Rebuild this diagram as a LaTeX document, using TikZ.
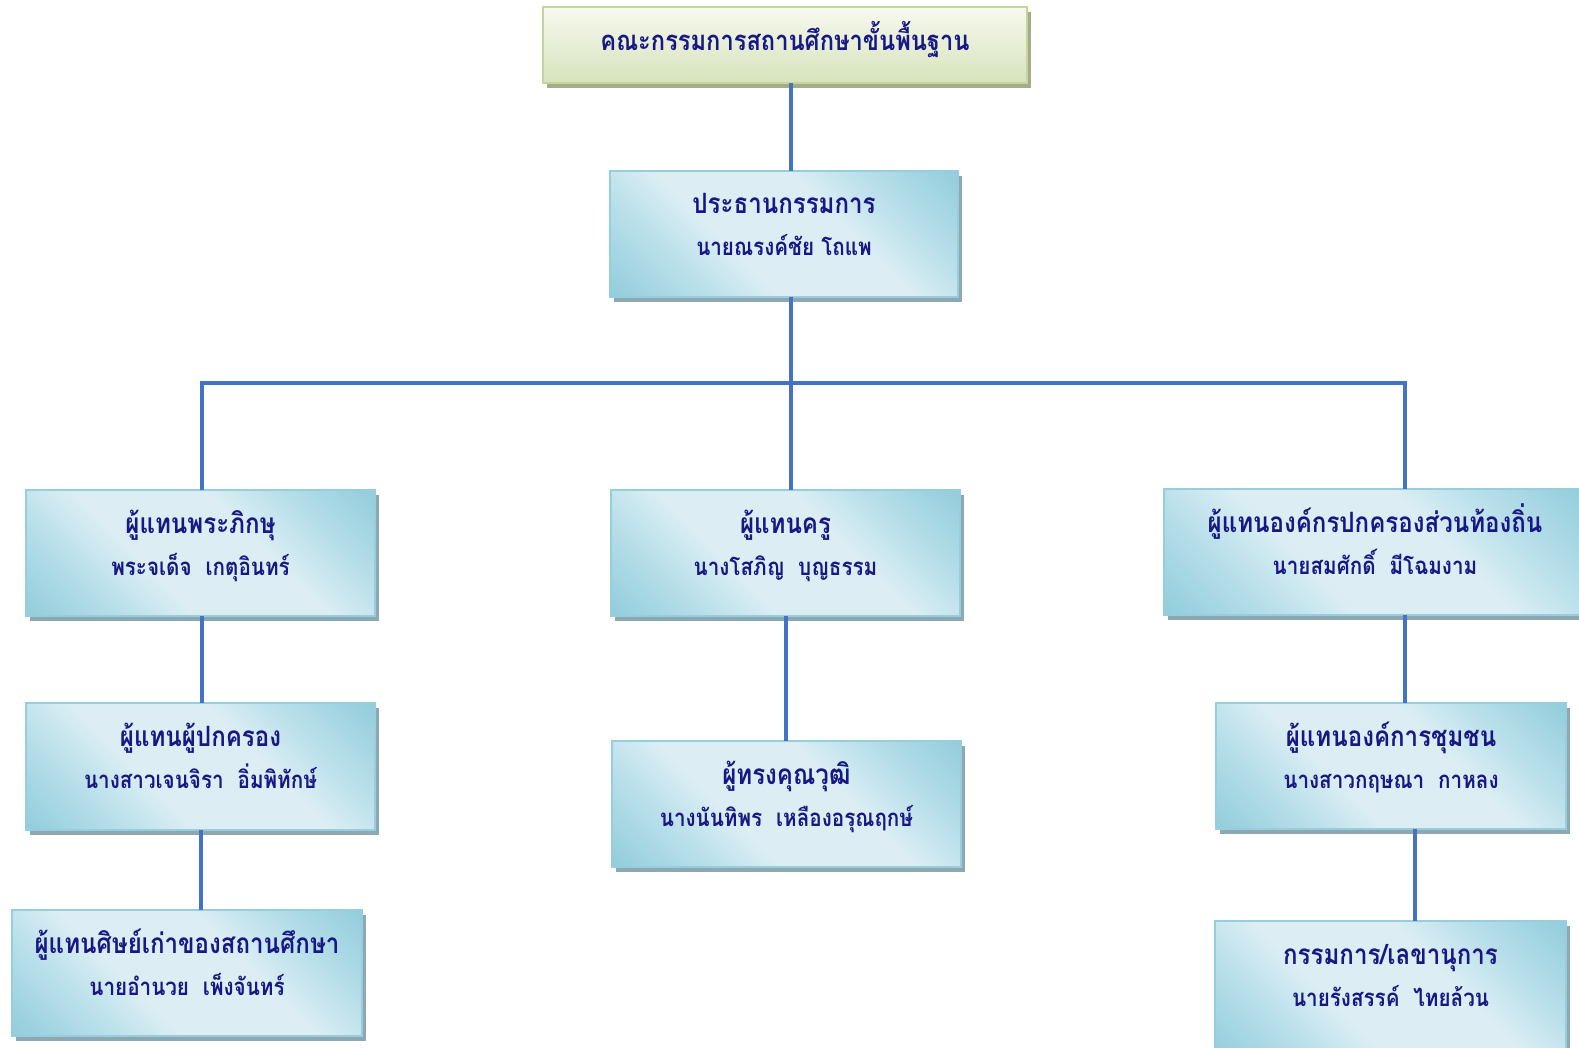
\documentclass[tikz,border=0pt]{standalone}
\usepackage{fontspec}
\newfontfamily\thaifont[Script=Thai,FakeStretch=0.86]{Loma}
\definecolor{navy}{RGB}{24,24,132}
\definecolor{lnk}{HTML}{4472C4}
\definecolor{bbord}{HTML}{96CEDD}
\definecolor{bdk}{HTML}{93CDDC}
\definecolor{bmd}{HTML}{B8DFEA}
\definecolor{blt}{HTML}{DCEEF4}
\definecolor{bshad}{HTML}{8EA8B2}
\definecolor{gbord}{HTML}{C3D69B}
\definecolor{gtop}{HTML}{F7F9EF}
\definecolor{gbot}{HTML}{D6E3BC}
\definecolor{gshad}{HTML}{A4AC89}
\pgfdeclarehorizontalshading{glassblue}{100bp}{color(0bp)=(bdk); color(15bp)=(bdk); color(29bp)=(bmd); color(40bp)=(blt); color(60bp)=(blt); color(71bp)=(bmd); color(85bp)=(bdk); color(100bp)=(bdk)}
\tikzset{
  bluebox/.style={draw=bbord, line width=2.5pt, shading=glassblue, shading angle=45, outer sep=0pt, inner sep=0pt},
  greenbox/.style={draw=gbord, line width=2.5pt, top color=gtop, bottom color=gbot, outer sep=0pt, inner sep=0pt},
  bshadow/.style={fill=bshad},
  gshadow/.style={fill=gshad},
  ttl/.style={font=\thaifont\bfseries\fontsize{28}{32}\selectfont, text=navy, anchor=base, inner sep=0pt},
  nm/.style={font=\thaifont\bfseries\fontsize{24}{28}\selectfont, text=navy, anchor=base, inner sep=0pt},
  toptxt/.style={font=\thaifont\bfseries\fontsize{27.5}{32}\selectfont, text=navy, anchor=base, inner sep=0pt},
  link/.style={draw=lnk, line width=4pt}
}
\newcommand\orgbox[7]{%
  \pgfmathsetmacro\obw{#4-#2}%
  \pgfmathsetmacro\obh{#5-#3}%
  \fill[bshadow] ({#2+4},{#3+5}) rectangle ({#4+4},{#5+5});
  \node[bluebox, minimum width=\obw pt, minimum height=\obh pt] (#1) at ({(#2+#4)/2},{(#3+#5)/2}) {};
  \node[ttl] (#1t) at ({(#2+#4)/2},{#3+43}) {#6};
  \node[nm] (#1n) at ({(#2+#4)/2},{#3+85}) {#7};
}
\begin{document}
\begin{tikzpicture}[x=1pt,y=-1pt]
\useasboundingbox (0,0) rectangle (1579,1048);
\clip (0,0) rectangle (1579,1048);
% top box
\fill[gshadow] (547,12) rectangle (1031,88);
\node[greenbox, minimum width=484pt, minimum height=76pt] (top) at (785,45) {};
\node[toptxt] (topt) at (785,51) {คณะกรรมการสถานศึกษาขั้นพื้นฐาน};
% boxes
\orgbox{chair}{610}{171}{958}{297}{ประธานกรรมการ}{นายณรงค์ชัย โถแพ}
\orgbox{monk}{26}{490}{375}{616}{ผู้แทนพระภิกษุ}{พระจเด็จ\ \ เกตุอินทร์}
\orgbox{parent}{26}{703}{375}{830}{ผู้แทนผู้ปกครอง}{นางสาวเจนจิรา\ \ อิ่มพิทักษ์}
\orgbox{alumni}{12}{910}{362}{1036}{ผู้แทนศิษย์เก่าของสถานศึกษา}{นายอำนวย\ \ เพ็งจันทร์}
\orgbox{teacher}{611}{490}{960}{616}{ผู้แทนครู}{นางโสภิญ\ \ บุญธรรม}
\orgbox{expert}{612}{741}{961}{867}{ผู้ทรงคุณวุฒิ}{นางนันทิพร\ \ เหลืองอรุณฤกษ์}
\orgbox{local}{1164}{489}{1586}{615}{ผู้แทนองค์กรปกครองส่วนท้องถิ่น}{นายสมศักดิ์\ \ มีโฉมงาม}
\orgbox{comm}{1216}{703}{1566}{829}{ผู้แทนองค์การชุมชน}{นางสาวกฤษณา\ \ กาหลง}
\orgbox{sec}{1215}{921}{1566}{1060}{กรรมการ/เลขานุการ}{นายรังสรรค์\ \ ไทยล้วน}
% connectors
\coordinate (busL) at (202,383);
\coordinate (busM) at (791,383);
\coordinate (busR) at (1405,383);
\coordinate (secx) at (1415,0);
\draw[link] (top.south -| busM) -- (chair.north -| busM);
\draw[link] (chair.south -| busM) -- (busM);
\draw[link] (monk.north -| busL) -- (busL) -- (busR) -- (local.north -| busR);
\draw[link] (busM) -- (teacher.north -| busM);
\draw[link] (monk.south -| busL) -- (parent.north -| busL);
\draw[link] (parent.south) -- (parent.south |- alumni.north);
\draw[link] (teacher.south) -- (teacher.south |- expert.north);
\draw[link] (local.south -| busR) -- (comm.north -| busR);
\draw[link] (comm.south -| secx) -- (sec.north -| secx);
\end{tikzpicture}
\end{document}
